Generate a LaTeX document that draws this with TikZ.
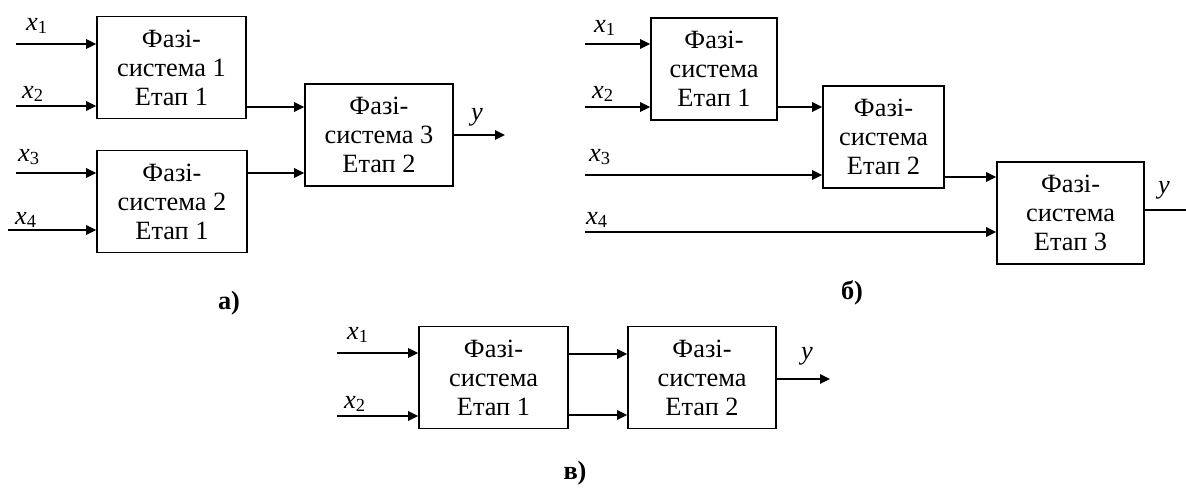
\documentclass[tikz,border=0pt]{standalone}
\usepackage{fontspec}
\setmainfont{Liberation Serif}
\usetikzlibrary{arrows.meta}

\newcommand{\xin}[1]{\textit{x}\textsubscript{#1}}

\begin{document}
\begin{tikzpicture}[x=0.02cm,y=-0.02cm,
  fsbox/.style={draw,line width=0.9pt,minimum height=2.04cm,inner sep=0pt,align=center,font=\fontsize{15}{16.5}\selectfont},
  sig/.style={line width=0.9pt,-{Triangle[length=2mm,width=1.9mm]}},
  lbl/.style={font=\fontsize{15}{16.5}\selectfont},
  figcap/.style={font=\fontsize{15}{16.5}\selectfont\bfseries}]
\useasboundingbox (0,0) rectangle (1186,488);

% a)
\node[fsbox,minimum width=2.98cm] (fsA1) at (171.5,67.5) {Фазі-\\система 1\\Етап 1};
\node[fsbox,minimum width=3cm] (fsA2) at (172,201.5) {Фазі-\\система 2\\Етап 1};
\node[fsbox,minimum width=2.96cm] (fsA3) at (379,135) {Фазі-\\система 3\\Етап 2};

\coordinate (inA1) at (16,44);
\coordinate (inA2) at (16,106);
\coordinate (inA3) at (16,173);
\coordinate (inA4) at (8,230);
\coordinate (outA) at (505,135);

\draw[sig] (inA1) -- (inA1 -| fsA1.west);
\draw[sig] (inA2) -- (inA2 -| fsA1.west);
\draw[sig] (inA3) -- (inA3 -| fsA2.west);
\draw[sig] (inA4) -- (inA4 -| fsA2.west);
\draw[sig] (fsA1.east |- 0,107) -- (fsA3.west |- 0,107);
\draw[sig] (fsA2.east |- 0,173) -- (fsA3.west |- 0,173);
\draw[sig] (fsA3.east) -- (outA);

\node[lbl] (xA1) at (37,26) {\xin{1}};
\node[lbl] (xA2) at (33,94) {\xin{2}};
\node[lbl] (xA3) at (29,157) {\xin{3}};
\node[lbl] (xA4) at (26,220) {\xin{4}};
\node[lbl] (yA) at (477,117) {\textit{y}};
\node[figcap] (capA) at (229,303) {а)};

% b)
\node[fsbox,minimum width=2.52cm] (fsB1) at (714,69) {Фазі-\\система\\Етап 1};
\node[fsbox,minimum width=2.42cm] (fsB2) at (883.5,137) {Фазі-\\система\\Етап 2};
\node[fsbox,minimum width=2.94cm] (fsB3) at (1070.5,213) {Фазі-\\система\\Етап 3};

\coordinate (inB1) at (585,44);
\coordinate (inB2) at (585,107);
\coordinate (inB3) at (585,175);
\coordinate (inB4) at (585,232);
\coordinate (outB) at (1196,210);

\draw[sig] (inB1) -- (inB1 -| fsB1.west);
\draw[sig] (inB2) -- (inB2 -| fsB1.west);
\draw[sig] (inB3) -- (inB3 -| fsB2.west);
\draw[sig] (inB4) -- (inB4 -| fsB3.west);
\draw[sig] (fsB1.east |- 0,107) -- (fsB2.west |- 0,107);
\draw[sig] (fsB2.east |- 0,177) -- (fsB3.west |- 0,177);
\draw[sig] (fsB3.east |- 0,210) -- (outB);

\node[lbl] (xB1) at (605,28) {\xin{1}};
\node[lbl] (xB2) at (603,94) {\xin{2}};
\node[lbl] (xB3) at (600,157) {\xin{3}};
\node[lbl] (xB4) at (597,220) {\xin{4}};
\node[lbl] (yB) at (1164,190) {\textit{y}};
\node[figcap] (capB) at (852,293) {б)};

% c)
\node[fsbox,minimum width=2.98cm] (fsC1) at (493.5,377.5) {Фазі-\\система\\Етап 1};
\node[fsbox,minimum width=2.96cm] (fsC2) at (702,377.5) {Фазі-\\система\\Етап 2};

\coordinate (inC1) at (337,353);
\coordinate (inC2) at (337,416);
\coordinate (outC) at (830,379);

\draw[sig] (inC1) -- (inC1 -| fsC1.west);
\draw[sig] (inC2) -- (inC2 -| fsC1.west);
\draw[sig] (fsC1.east |- 0,354) -- (fsC2.west |- 0,354);
\draw[sig] (fsC1.east |- 0,415) -- (fsC2.west |- 0,415);
\draw[sig] (fsC2.east |- 0,379) -- (outC);

\node[lbl] (xC1) at (358,335) {\xin{1}};
\node[lbl] (xC2) at (355,404) {\xin{2}};
\node[lbl] (yC) at (807,356) {\textit{y}};
\node[figcap] (capC) at (575,473) {в)};

\end{tikzpicture}
\end{document}
